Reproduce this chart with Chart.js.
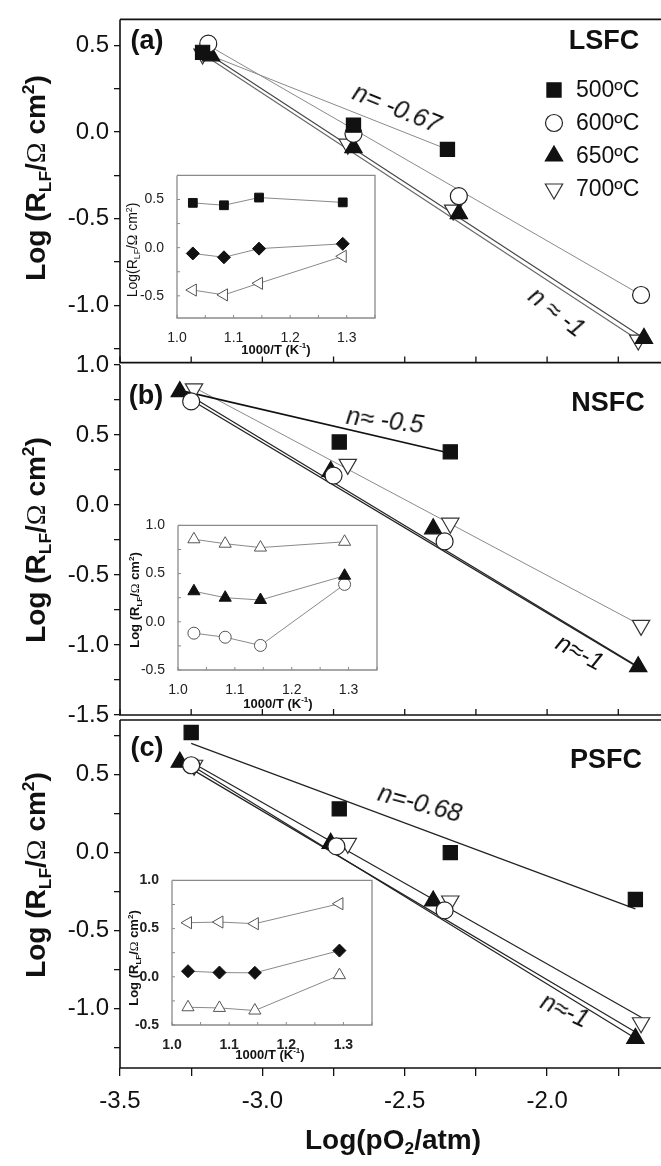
<!DOCTYPE html>
<html>
<head>
<meta charset="utf-8">
<script src="https://cdn.jsdelivr.net/npm/chart.js@4.4.0/dist/chart.umd.min.js"></script>
<style>
  body { margin: 0; background: #fff; }
  #wrap { position: relative; width: 661px; height: 1166px; overflow: hidden;
          font-family: "Liberation Sans", Arial, Helvetica, sans-serif; color: #111; }
  canvas { position: absolute; }
  .t { position: absolute; white-space: nowrap; line-height: 1; transform: translate(-50%, -50%); }
  .rot { transform: translate(-50%, -50%) rotate(-90deg); }
  .b { font-weight: bold; }
  .ytitle { font-size: 28px; font-weight: bold; }
  .ititle { font-size: 13px; font-weight: bold; }
  .ann { font-size: 25px; font-style: italic; }
  .om { font-family: "Liberation Serif", "DejaVu Serif", serif; font-weight: normal; }
  sub { font-size: 0.62em; vertical-align: -0.3em; }
  sup { font-size: 0.62em; vertical-align: 0.65em; }
</style>
</head>
<body>
<div id="wrap">
  <canvas id="pa" width="661" height="382" style="left:0;top:0"></canvas>
  <canvas id="pb" width="661" height="390" style="left:0;top:345px"></canvas>
  <canvas id="pc" width="661" height="466" style="left:0;top:700px"></canvas>
  <canvas id="ia" width="258" height="182" style="left:125px;top:162px"></canvas>
  <canvas id="ib" width="259" height="184" style="left:126px;top:512px"></canvas>
  <canvas id="ic" width="260" height="184" style="left:120px;top:867px"></canvas>

  <div class="t rot ytitle" style="left:37px;top:178px">Log (R<sub>LF</sub>/<span class="om">Ω</span> cm<sup>2</sup>)</div>
  <div class="t rot ytitle" style="left:37px;top:540px">Log (R<sub>LF</sub>/<span class="om">Ω</span> cm<sup>2</sup>)</div>
  <div class="t rot ytitle" style="left:37px;top:875px">Log (R<sub>LF</sub>/<span class="om">Ω</span> cm<sup>2</sup>)</div>
  <div class="t b" style="left:393px;top:1142px;font-size:28px">Log(pO<sub>2</sub>/atm)</div>

  <div class="t b" style="left:147px;top:40px;font-size:27px">(a)</div>
  <div class="t b" style="left:146px;top:395px;font-size:27px">(b)</div>
  <div class="t b" style="left:147px;top:747px;font-size:27px">(c)</div>
  <div class="t b" style="left:604px;top:40px;font-size:27px">LSFC</div>
  <div class="t b" style="left:608px;top:402px;font-size:27px">NSFC</div>
  <div class="t b" style="left:606px;top:759px;font-size:27px">PSFC</div>

  <div class="t ann" style="left:397px;top:108px;transform:translate(-50%,-50%) rotate(22deg)">n= -0.67</div>
  <div class="t ann" style="left:557px;top:312px;transform:translate(-50%,-50%) rotate(38deg)">n ≈ -1</div>
  <div class="t ann" style="left:385px;top:420px;transform:translate(-50%,-50%) rotate(7deg)">n≈ -0.5</div>
  <div class="t ann" style="left:580px;top:652px;transform:translate(-50%,-50%) rotate(28deg)">n≈-1</div>
  <div class="t ann" style="left:420px;top:803px;transform:translate(-50%,-50%) rotate(15deg)">n=-0.68</div>
  <div class="t ann" style="left:565px;top:1010px;transform:translate(-50%,-50%) rotate(25deg)">n≈-1</div>

  <div class="t rot ititle" style="left:133px;top:250px;font-weight:normal;font-size:14px">Log(R<sub>LF</sub>/<span class="om">Ω</span> cm<sup>2</sup>)</div>
  <div class="t ititle" style="left:276px;top:349px">1000/T (K<sup>-1</sup>)</div>
  <div class="t rot ititle" style="left:136px;top:600px">Log (R<sub>LF</sub>/<span class="om">Ω</span> cm<sup>2</sup>)</div>
  <div class="t ititle" style="left:278px;top:703px">1000/T (K<sup>-1</sup>)</div>
  <div class="t rot ititle" style="left:135px;top:958px">Log (R<sub>LF</sub>/<span class="om">Ω</span> cm<sup>2</sup>)</div>
  <div class="t ititle" style="left:270px;top:1054px">1000/T (K<sup>-1</sup>)</div>
</div>

<script>
const FONT = '"Liberation Sans", Arial, Helvetica, sans-serif';
Chart.defaults.font.family = FONT;
Chart.defaults.color = '#111';

// main x axis (Log pO2)
const xTickVals = [-3.5, -3.25, -3.0, -2.75, -2.5, -2.25, -2.0, -1.75];
const tempLabels = ['500ºC', '600ºC', '650ºC', '700ºC'];

// (a) LSFC
const a500x = [-3.21, -2.68, -2.35];
const a500y = [0.46, 0.04, -0.10];
const a600x = [-3.19, -2.68, -2.31, -1.67];
const a600y = [0.51, -0.01, -0.37, -0.94];
const a650x = [-3.18, -2.68, -2.31, -1.66];
const a650y = [0.44, -0.09, -0.47, -1.19];
const a700x = [-3.21, -2.70, -2.33, -1.68];
const a700y = [0.45, -0.07, -0.45, -1.20];
const aFit500x = [-3.21, -2.35], aFit500y = [0.46, -0.10];
const aFit600x = [-3.19, -1.67], aFit600y = [0.50, -0.94];
const aFit650x = [-3.18, -1.66], aFit650y = [0.44, -1.19];
const aFit700x = [-3.21, -1.68], aFit700y = [0.45, -1.20];

// (b) NSFC
const b500x = [-2.73, -2.34];
const b500y = [0.45, 0.38];
const b600x = [-3.25, -2.75, -2.36];
const b600y = [0.74, 0.21, -0.26];
const b650x = [-3.29, -2.76, -2.40, -1.68];
const b650y = [0.81, 0.24, -0.17, -1.155];
const b700x = [-3.24, -2.70, -2.34, -1.67];
const b700y = [0.83, 0.29, -0.13, -0.86];
const bFit500x = [-3.27, -2.34], bFit500y = [0.81, 0.37];
const bFit600x = [-3.25, -1.68], bFit600y = [0.75, -1.16];
const bFit650x = [-3.27, -1.68], bFit650y = [0.80, -1.155];
const bFit700x = [-3.24, -1.67], bFit700y = [0.84, -0.86];

// (c) PSFC
const c500x = [-3.25, -2.73, -2.34, -1.69];
const c500y = [0.77, 0.28, 0.00, -0.30];
const c600x = [-3.25, -2.74, -2.36];
const c600y = [0.56, 0.04, -0.37];
const c650x = [-3.29, -2.76, -2.40, -1.69];
const c650y = [0.58, 0.06, -0.31, -1.19];
const c700x = [-3.24, -2.70, -2.34, -1.67];
const c700y = [0.56, 0.06, -0.31, -1.09];
const cFit500x = [-3.25, -1.69], cFit500y = [0.70, -0.36];
const cFit600x = [-3.25, -1.69], cFit600y = [0.56, -1.19];
const cFit650x = [-3.29, -1.69], cFit650y = [0.58, -1.15];
const cFit700x = [-3.24, -1.665], cFit700y = [0.57, -1.06];

// insets: 1000/T
const insetX = [1.028, 1.083, 1.145, 1.293];
const iaSquare = [0.465, 0.44, 0.52, 0.47];
const iaDiamond = [-0.06, -0.10, -0.01, 0.04];
const iaLeftTri = [-0.44, -0.49, -0.37, -0.09];
const ibOpenTri = [0.856, 0.81, 0.77, 0.83];
const ibFillTri = [0.317, 0.25, 0.226, 0.478];
const ibCircle = [-0.118, -0.16, -0.245, 0.388];
const icLeftTri = [0.561, 0.568, 0.551, 0.758];
const icDiamond = [0.058, 0.044, 0.041, 0.272];
const icOpenTri = [-0.316, -0.323, -0.35, 0.017];

const pts = (xs, ys) => xs.map((x, i) => ({ x, y: ys[i] }));

const halfLabel = v => {
    const r = Math.round(v * 2) / 2;
    return Math.abs(v - r) < 1e-6 ? (r + 0).toFixed(1) : '';
};
const tenthLabel = v => {
    const r = Math.round(v * 10) / 10;
    return Math.abs(v - r) < 1e-6 ? (r + 0).toFixed(1) : '';
};

const MK = [
    { pointStyle: 'rect', r: 10, rot: 0, bg: '#111', bd: '#111' },
    { pointStyle: 'circle', r: 8.5, rot: 0, bg: '#fff', bd: '#222' },
    { pointStyle: 'triangle', r: 10, rot: 0, bg: '#111', bd: '#111' },
    { pointStyle: 'triangle', r: 10, rot: 180, bg: '#fff', bd: '#333' }
];

function markers(i, xs, ys) {
    const m = MK[i];
    return {
        label: tempLabels[i], data: pts(xs, ys), showLine: false,
        pointStyle: m.pointStyle, pointRadius: m.r, pointRotation: m.rot,
        pointBackgroundColor: m.bg, pointBorderColor: m.bd, pointBorderWidth: 1.2
    };
}

function fitLine(xs, ys, color, width) {
    return {
        label: '', data: pts(xs, ys), showLine: true, pointRadius: 0,
        borderColor: color, borderWidth: width, fill: false
    };
}

function insetSet(ys, style, r, rot, bg, bd) {
    return {
        data: pts(insetX, ys), showLine: true, borderColor: '#8a8a8a', borderWidth: 1,
        pointStyle: style, pointRadius: r, pointRotation: rot,
        pointBackgroundColor: bg, pointBorderColor: bd, pointBorderWidth: 1
    };
}

const panelFrame = {
    id: 'panelFrame',
    beforeDatasetsDraw(chart, args, o) {
        if (!o.fill) return;
        const { ctx, chartArea: ca } = chart;
        ctx.save();
        ctx.fillStyle = '#fff';
        ctx.fillRect(ca.left, ca.top, ca.right - ca.left, ca.bottom - ca.top);
        ctx.restore();
    },
    afterDraw(chart, args, o) {
        const { ctx, chartArea: ca, scales } = chart;
        ctx.save();
        ctx.strokeStyle = o.color || '#111';
        ctx.lineWidth = o.width || 1.5;
        ctx.beginPath();
        ctx.moveTo(ca.left, ca.top);
        ctx.lineTo(ca.left, ca.bottom);
        ctx.lineTo(ca.right, ca.bottom);
        if (o.box) { ctx.lineTo(ca.right, ca.top); ctx.lineTo(ca.left, ca.top); }
        if (o.top) { ctx.moveTo(ca.left, ca.top); ctx.lineTo(ca.right, ca.top); }
        ctx.stroke();

        ctx.lineWidth = o.tickWidth || 1;
        ctx.beginPath();
        if (o.xIn) {
            const vals = o.xVals || scales.x.ticks.map(t => t.value);
            vals.forEach(v => {
                const p = scales.x.getPixelForValue(v);
                ctx.moveTo(p, ca.bottom);
                ctx.lineTo(p, ca.bottom - o.xIn);
            });
        }
        if (o.yIn) {
            scales.y.ticks.forEach(t => {
                const p = scales.y.getPixelForValue(t.value);
                ctx.moveTo(ca.left, p);
                ctx.lineTo(ca.left + o.yIn, p);
            });
        }
        ctx.stroke();
        ctx.restore();
    }
};

const legendMarks = {
    id: 'legendMarks',
    afterDraw(chart, args, o) {
        if (!o.rows) return;
        const ctx = chart.ctx;
        ctx.save();
        ctx.font = '23px ' + FONT;
        ctx.textBaseline = 'middle';
        o.rows.forEach((y, i) => {
            const ds = chart.data.datasets[i];
            ctx.fillStyle = ds.pointBackgroundColor;
            ctx.strokeStyle = ds.pointBorderColor;
            ctx.lineWidth = ds.pointBorderWidth;
            Chart.helpers.drawPoint(ctx, {
                pointStyle: ds.pointStyle, radius: ds.pointRadius,
                rotation: ds.pointRotation, borderWidth: ds.pointBorderWidth
            }, o.x, y);
            ctx.fillStyle = '#111';
            ctx.fillText(ds.label, o.textX, y + 1);
        });
        ctx.restore();
    }
};

function mainPanel(id, datasets, yMin, yMax, pad, cfg) {
    return new Chart(document.getElementById(id), {
        type: 'scatter',
        data: { datasets },
        plugins: [panelFrame, legendMarks],
        options: {
            responsive: false, animation: false, events: [],
            layout: { padding: { top: pad.top, bottom: pad.bottom, left: 0, right: 0 }, autoPadding: false },
            plugins: {
                legend: { display: false }, tooltip: { enabled: false },
                panelFrame: { top: cfg.top, xIn: cfg.showX ? 0 : 6, xVals: xTickVals, color: '#111', width: 1.6, tickWidth: 1.3 },
                legendMarks: cfg.legend || {}
            },
            scales: {
                x: {
                    type: 'linear', min: -3.5, max: -1.6, display: cfg.showX,
                    afterFit: s => { s.height = cfg.showX ? 98 : 0; },
                    border: { display: false },
                    grid: { drawOnChartArea: false, drawTicks: true, tickLength: 8, color: '#111', lineWidth: 1.3 },
                    ticks: { stepSize: 0.25, includeBounds: false, autoSkip: false, maxRotation: 0,
                             font: { size: 24 }, color: '#111', padding: 11, callback: halfLabel }
                },
                y: {
                    type: 'linear', min: yMin, max: yMax,
                    afterFit: s => { s.width = 120; },
                    border: { display: false },
                    grid: { drawOnChartArea: false, drawTicks: true, tickLength: 6, color: '#111', lineWidth: 1.3 },
                    ticks: { stepSize: 0.25, includeBounds: false, autoSkip: false,
                             font: { size: 24 }, color: '#111', padding: 5, callback: halfLabel }
                }
            }
        }
    });
}

function insetPanel(id, datasets, yMin, yMax, bold) {
    const f = { size: 14, weight: bold ? 'bold' : 'normal' };
    return new Chart(document.getElementById(id), {
        type: 'scatter',
        data: { datasets },
        plugins: [panelFrame],
        options: {
            responsive: false, animation: false, events: [],
            layout: { padding: { top: 10, right: 8, left: 0, bottom: 0 }, autoPadding: false },
            plugins: {
                legend: { display: false }, tooltip: { enabled: false },
                panelFrame: { box: true, fill: true, color: '#8a8a8a', width: 1.3, xIn: 3, yIn: 3, tickWidth: 1 }
            },
            scales: {
                x: {
                    type: 'linear', min: 1.0, max: 1.35,
                    afterFit: s => { s.height = 26; },
                    border: { display: false }, grid: { display: false },
                    ticks: { stepSize: 0.05, includeBounds: false, autoSkip: false, maxRotation: 0,
                             font: f, color: '#222', padding: 4, callback: tenthLabel }
                },
                y: {
                    type: 'linear', min: yMin, max: yMax,
                    afterFit: s => { s.width = 52; },
                    border: { display: false }, grid: { display: false },
                    ticks: { stepSize: 0.25, includeBounds: false, autoSkip: false,
                             font: f, color: '#222', padding: 5, callback: halfLabel }
                }
            }
        }
    });
}

mainPanel('pa', [
    markers(0, a500x, a500y), markers(1, a600x, a600y),
    markers(2, a650x, a650y), markers(3, a700x, a700y),
    fitLine(aFit500x, aFit500y, '#8a8a8a', 1),
    fitLine(aFit600x, aFit600y, '#8a8a8a', 1),
    fitLine(aFit650x, aFit650y, '#444', 1.1),
    fitLine(aFit700x, aFit700y, '#666', 1.1)
], -1.33, 0.65, { top: 13, bottom: 18 },
   { top: true, showX: false, legend: { x: 554, textX: 576, rows: [90, 123, 156, 189] } });

mainPanel('pb', [
    markers(0, b500x, b500y), markers(1, b600x, b600y),
    markers(2, b650x, b650y), markers(3, b700x, b700y),
    fitLine(bFit500x, bFit500y, '#111', 1.6),
    fitLine(bFit600x, bFit600y, '#222', 1.3),
    fitLine(bFit650x, bFit650y, '#222', 1.3),
    fitLine(bFit700x, bFit700y, '#8a8a8a', 1)
], -1.5, 1.0, { top: 20, bottom: 20 }, { top: false, showX: false });

mainPanel('pc', [
    markers(0, c500x, c500y), markers(1, c600x, c600y),
    markers(2, c650x, c650y), markers(3, c700x, c700y),
    fitLine(cFit500x, cFit500y, '#222', 1.2),
    fitLine(cFit600x, cFit600y, '#222', 1.2),
    fitLine(cFit650x, cFit650y, '#222', 1.2),
    fitLine(cFit700x, cFit700y, '#222', 1.2)
], -1.38, 0.85, { top: 20, bottom: 0 }, { top: true, showX: true });

insetPanel('ia', [
    insetSet(iaSquare, 'rect', 6.2, 0, '#111', '#111'),
    insetSet(iaDiamond, 'rectRot', 6.5, 0, '#111', '#111'),
    insetSet(iaLeftTri, 'triangle', 7, 270, '#fff', '#555')
], -0.73, 0.75, false);

insetPanel('ib', [
    insetSet(ibOpenTri, 'triangle', 7, 0, '#fff', '#555'),
    insetSet(ibFillTri, 'triangle', 7, 0, '#111', '#111'),
    insetSet(ibCircle, 'circle', 6, 0, '#fff', '#555')
], -0.5, 1.0, false);

insetPanel('ic', [
    insetSet(icLeftTri, 'triangle', 7, 270, '#fff', '#555'),
    insetSet(icDiamond, 'rectRot', 6.5, 0, '#111', '#111'),
    insetSet(icOpenTri, 'triangle', 7, 0, '#fff', '#555')
], -0.5, 1.0, true);
</script>
</body>
</html>
